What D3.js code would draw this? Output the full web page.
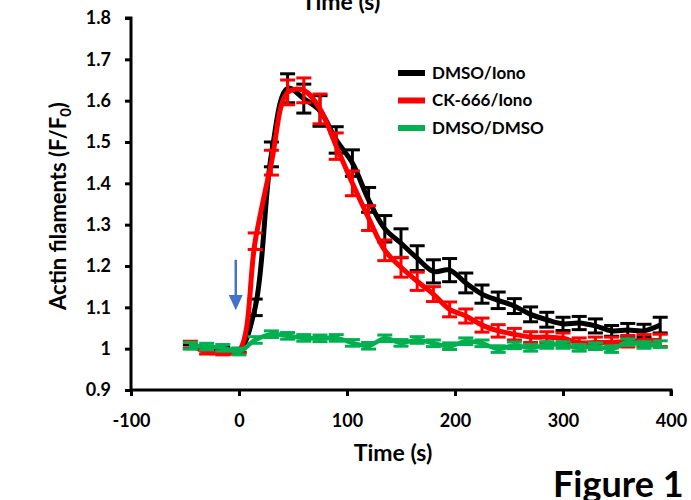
<!DOCTYPE html>
<html>
<head>
<meta charset="utf-8">
<script src="https://cdn.jsdelivr.net/npm/d3@7"></script>
<style>
  body { margin: 0; background: #fff; }
  svg { display: block; }
  text { font-family: Lato, "Open Sans", sans-serif; font-weight: bold; fill: #000; }
</style>
</head>
<body>
<svg id="chart"></svg>
<script>
// time points (s)
const times = [-45, -30, -15, 0, 15, 30, 45, 60, 75, 90, 105, 120, 135, 150, 165, 180,
  195, 210, 225, 240, 255, 270, 285, 300, 315, 330, 345, 360, 375, 390];

const dmsoIono = [1.005, 1.0, 0.998, 0.996, 1.10, 1.47, 1.63, 1.605, 1.575, 1.505, 1.449, 1.36,
  1.29, 1.255, 1.219, 1.187, 1.19, 1.159, 1.132, 1.117, 1.103, 1.083, 1.07, 1.06, 1.062, 1.055,
  1.043, 1.045, 1.043, 1.057];
const dmsoIonoErr = [0.005, 0.005, 0.005, 0.005, 0.02, 0.03, 0.035, 0.035, 0.037, 0.032, 0.032,
  0.03, 0.032, 0.035, 0.03, 0.028, 0.028, 0.024, 0.022, 0.02, 0.018, 0.018, 0.018, 0.016, 0.016,
  0.017, 0.013, 0.016, 0.016, 0.019];

const ckIono = [1.01, 0.992, 0.99, 0.995, 1.26, 1.45, 1.62, 1.625, 1.58, 1.49, 1.40, 1.316,
  1.238, 1.197, 1.163, 1.132, 1.095, 1.079, 1.057, 1.043, 1.035, 1.028, 1.028, 1.025, 1.014,
  1.015, 1.015, 1.018, 1.02, 1.02];
const ckIonoErr = [0.008, 0.005, 0.005, 0.005, 0.02, 0.03, 0.03, 0.03, 0.036, 0.032, 0.03, 0.03,
  0.025, 0.024, 0.022, 0.018, 0.018, 0.017, 0.017, 0.015, 0.014, 0.013, 0.013, 0.013, 0.012,
  0.013, 0.013, 0.014, 0.014, 0.015];

const dmsoDmso = [1.007, 1.005, 1.002, 0.993, 1.021, 1.035, 1.031, 1.026, 1.025, 1.026, 1.014,
  1.007, 1.025, 1.014, 1.021, 1.013, 1.006, 1.018, 1.013, 0.999, 1.008, 1.002, 1.009, 1.009,
  1.002, 1.006, 0.999, 1.016, 1.009, 1.011];
const dmsoDmsoErr = 0.008;

const xTicks = [-100, 0, 100, 200, 300, 400];
const yTicks = [0.9, 1, 1.1, 1.2, 1.3, 1.4, 1.5, 1.6, 1.7, 1.8];

const series = [
  { name: "DMSO/Iono", values: dmsoIono, err: dmsoIonoErr, color: "#000000", width: 5 },
  { name: "CK-666/Iono", values: ckIono, err: ckIonoErr, color: "#FF0000", width: 5 },
  { name: "DMSO/DMSO", values: dmsoDmso, err: times.map(() => dmsoDmsoErr), color: "#00B050", width: 4.5 }
];

const W = 691, H = 500;
const svg = d3.select("#chart").attr("width", W).attr("height", H);

const x = d3.scaleLinear().domain([-100, 400]).range([131, 671]);
const y = d3.scaleLinear().domain([0.9, 1.8]).range([390, 18]);

// axes
const yAxis = svg.append("g")
  .attr("transform", `translate(${x(-100)},0)`)
  .call(d3.axisLeft(y).tickValues(yTicks).tickSize(6).tickPadding(14)
    .tickFormat(d => d === 1 ? "1" : d3.format(".1f")(d)));
const xAxis = svg.append("g")
  .attr("transform", `translate(0,${y(0.9)})`)
  .call(d3.axisBottom(x).tickValues(xTicks).tickSize(6).tickPadding(18)
    .tickFormat(d => String(d)));

[xAxis, yAxis].forEach(g => {
  g.select(".domain").attr("stroke", "#000").attr("stroke-width", 3);
  g.selectAll(".tick line").attr("stroke", "#000").attr("stroke-width", 3);
  g.selectAll(".tick text").style("font-size", "18px").style("font-family", "Lato, sans-serif")
    .style("font-weight", "bold").attr("fill", "#000");
});
yAxis.select(".domain").attr("d", `M-6,${y(1.8)}H0V${y(0.9)}`);
xAxis.select(".domain").attr("d", `M${x(-100)},0H${x(400)}V6`);

// series: error bars then line
const line = d3.line().x((d, i) => x(times[i])).y(d => y(d)).curve(d3.curveCatmullRom.alpha(0.5));
const cap = 7.5;

series.forEach(s => {
  const g = svg.append("g");
  const bars = g.selectAll("g.bar").data(s.values).join("g").attr("class", "bar");
  bars.append("line")
    .attr("x1", (d, i) => x(times[i])).attr("x2", (d, i) => x(times[i]))
    .attr("y1", (d, i) => y(d - s.err[i])).attr("y2", (d, i) => y(d + s.err[i]));
  bars.append("line")
    .attr("x1", (d, i) => x(times[i]) - cap).attr("x2", (d, i) => x(times[i]) + cap)
    .attr("y1", (d, i) => y(d - s.err[i])).attr("y2", (d, i) => y(d - s.err[i]));
  bars.append("line")
    .attr("x1", (d, i) => x(times[i]) - cap).attr("x2", (d, i) => x(times[i]) + cap)
    .attr("y1", (d, i) => y(d + s.err[i])).attr("y2", (d, i) => y(d + s.err[i]));
  bars.selectAll("line").attr("stroke", s.color).attr("stroke-width", 3);

  g.append("path").datum(s.values)
    .attr("fill", "none").attr("stroke", s.color).attr("stroke-width", s.width)
    .attr("stroke-linejoin", "round").attr("d", line);
});

// stimulus arrow
const ax = x(-3);
svg.append("line").attr("x1", ax).attr("x2", ax).attr("y1", y(1.215)).attr("y2", y(1.12))
  .attr("stroke", "#4472C4").attr("stroke-width", 2.5);
svg.append("path")
  .attr("d", `M${ax - 7},${y(1.13)}L${ax + 7},${y(1.13)}L${ax},${y(1.093)}Z`)
  .attr("fill", "#4472C4");

// legend
const legend = svg.append("g").attr("transform", "translate(398,73)");
series.forEach((s, i) => {
  const row = legend.append("g").attr("transform", `translate(0,${i * 27.5})`);
  row.append("line").attr("x1", 0).attr("x2", 27).attr("y1", 0).attr("y2", 0)
    .attr("stroke", s.color).attr("stroke-width", 6);
  row.append("text").attr("x", 34).attr("y", 0).attr("dy", "0.35em")
    .style("font-size", "17px").text(s.name);
});

// axis titles
svg.append("text").attr("x", 393).attr("y", 461).attr("text-anchor", "middle")
  .style("font-size", "23px").text("Time (s)");
svg.append("text").attr("x", 341).attr("y", 10).attr("text-anchor", "middle")
  .style("font-size", "23px").text("Time (s)");

const yl = svg.append("text").attr("transform", "translate(66,206) rotate(-90)")
  .attr("text-anchor", "middle").style("font-size", "22px");
yl.append("tspan").text("Actin filaments (F/F");
yl.append("tspan").attr("dy", 5).style("font-size", "15px").text("0");
yl.append("tspan").attr("dy", -5).text(")");

svg.append("text").attr("x", 553).attr("y", 497).style("font-size", "36px").text("Figure 1");
</script>
</body>
</html>
